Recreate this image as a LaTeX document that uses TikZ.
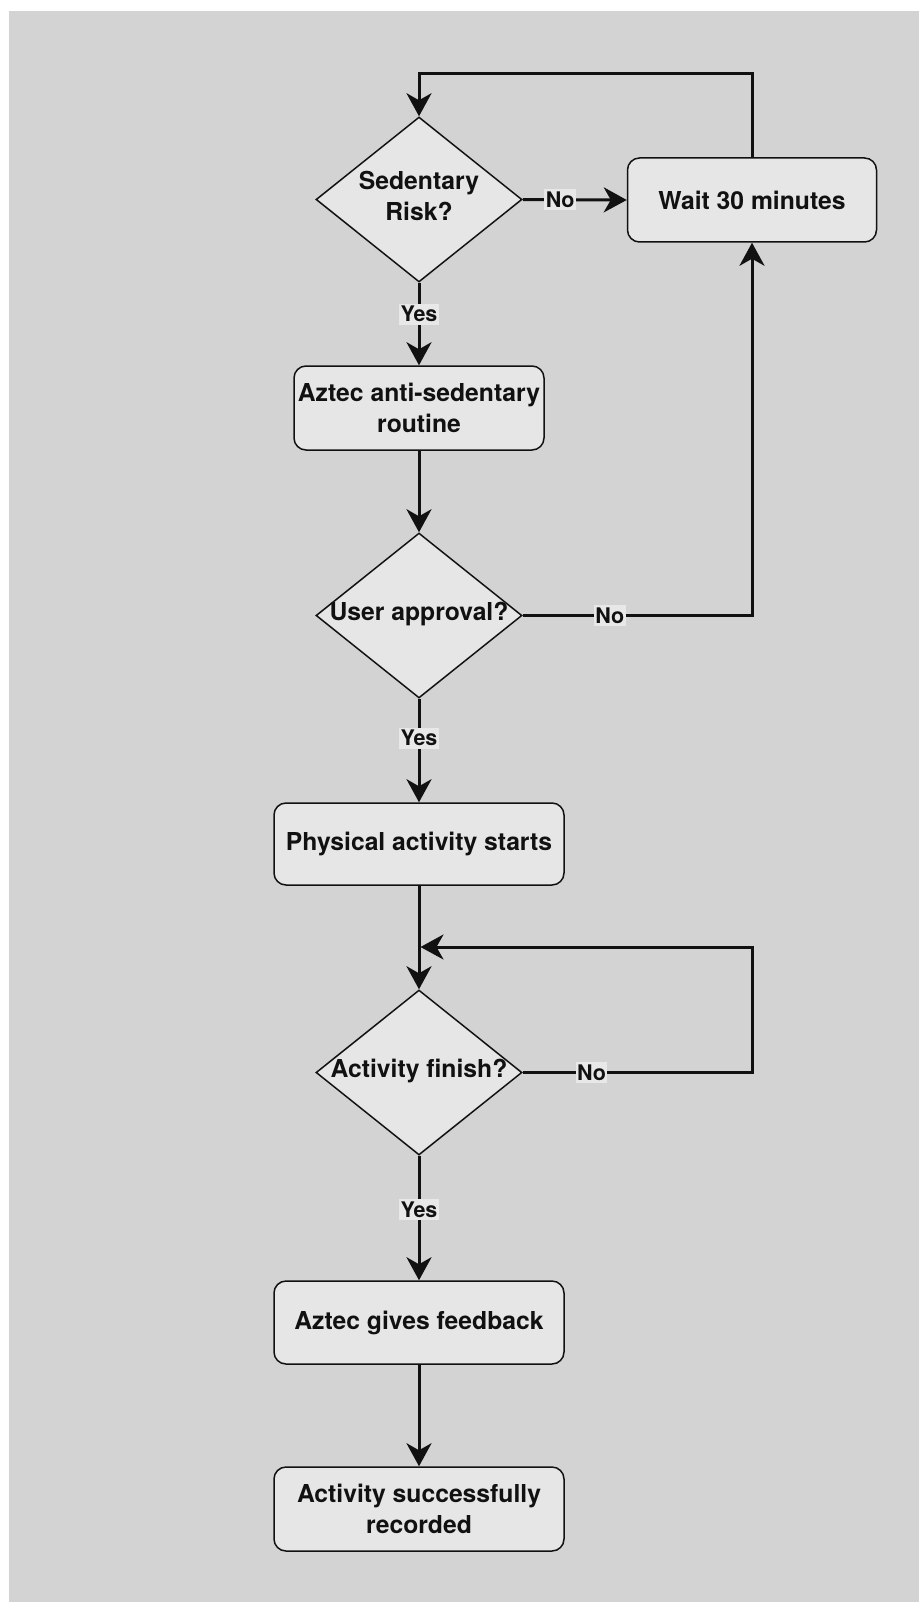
\documentclass[tikz,border=0pt]{standalone}
\usepackage{fontspec}
\setmainfont{TeX Gyre Heros}
\usetikzlibrary{shapes.geometric,arrows.meta}
\definecolor{canvas}{HTML}{D3D3D3}
\definecolor{boxfill}{HTML}{E6E6E6}
\definecolor{ink}{HTML}{111111}
\definecolor{tagfill}{HTML}{E8E8E8}

\begin{document}
\begin{tikzpicture}[x=1pt,y=-1pt,
  every node/.style={font=\fontsize{24.7}{30.7}\selectfont\bfseries, text=ink},
  procbox/.style={draw=ink, line width=1.5pt, fill=boxfill, rounded corners=12pt,
    minimum width=#1, minimum height=84pt, inner sep=0pt, align=center},
  decision/.style={draw=ink, line width=1.5pt, fill=boxfill, diamond,
    minimum width=206pt, minimum height=165pt, inner sep=0pt},
  qtext/.style={align=center, inner sep=0pt},
  flow/.style={draw=ink, line width=3pt, -{Stealth[length=23pt,width=25pt,inset=7pt]}},
  tag/.style={fill=tagfill, inner xsep=1.5pt, inner ysep=2.5pt,
    font=\fontsize{21.5}{24}\selectfont\bfseries}
]
% page and canvas
\useasboundingbox (0,0) rectangle (919,1602);
\fill[white] (0,0) rectangle (919,1602);
\fill[canvas] (9,11) rectangle (919,1602);

% decisions
\node[decision] (d1) at (419,199.5) {};
\node[qtext] (d1t) at (419,196) {Sedentary\\Risk?};
\node[decision] (d2) at (419,615.5) {};
\node[qtext] (d2t) at (419,614) {User approval?};
\node[decision] (d3) at (419,1072.5) {};
\node[qtext] (d3t) at (419,1071) {Activity finish?};

% process steps
\node[procbox=249pt] (wait) at (752,200) {Wait 30 minutes};
\node[procbox=250pt] (b1) at (419,408) {Aztec anti-sedentary\\routine};
\node[procbox=290pt, minimum height=82pt] (b2) at (419,844) {Physical activity starts};
\node[procbox=290pt, minimum height=83pt] (b3) at (419,1322.5) {Aztec gives feedback};
\node[procbox=290pt] (b4) at (419,1509) {Activity successfully\\recorded};

\coordinate (j) at (420.5,947);

% connectors
\draw[flow] (d1.east) -- node[tag, pos=0.36] {No} (wait.west);
\draw[flow] (wait.north) -- ++(0,-84) -| (d1.north);
\draw[flow] (d1.south) -- node[tag, pos=0.38] {Yes} (b1.north);
\draw[flow] (b1.south) -- (d2.north);
\draw[flow] (d2.east) -- node[tag, pos=0.38] {No} (d2.east -| wait.south) -- (wait.south);
\draw[flow] (d2.south) -- node[tag, pos=0.38] {Yes} (b2.north);
\draw[flow] (b2.south) -- (d3.north);
\draw[flow] (d3.east) -- node[tag, pos=0.30] {No} (d3.east -| wait.south) |- (j);
\draw[flow] (d3.south) -- node[tag, pos=0.43] {Yes} (b3.north);
\draw[flow] (b3.south) -- (b4.north);
\end{tikzpicture}
\end{document}
